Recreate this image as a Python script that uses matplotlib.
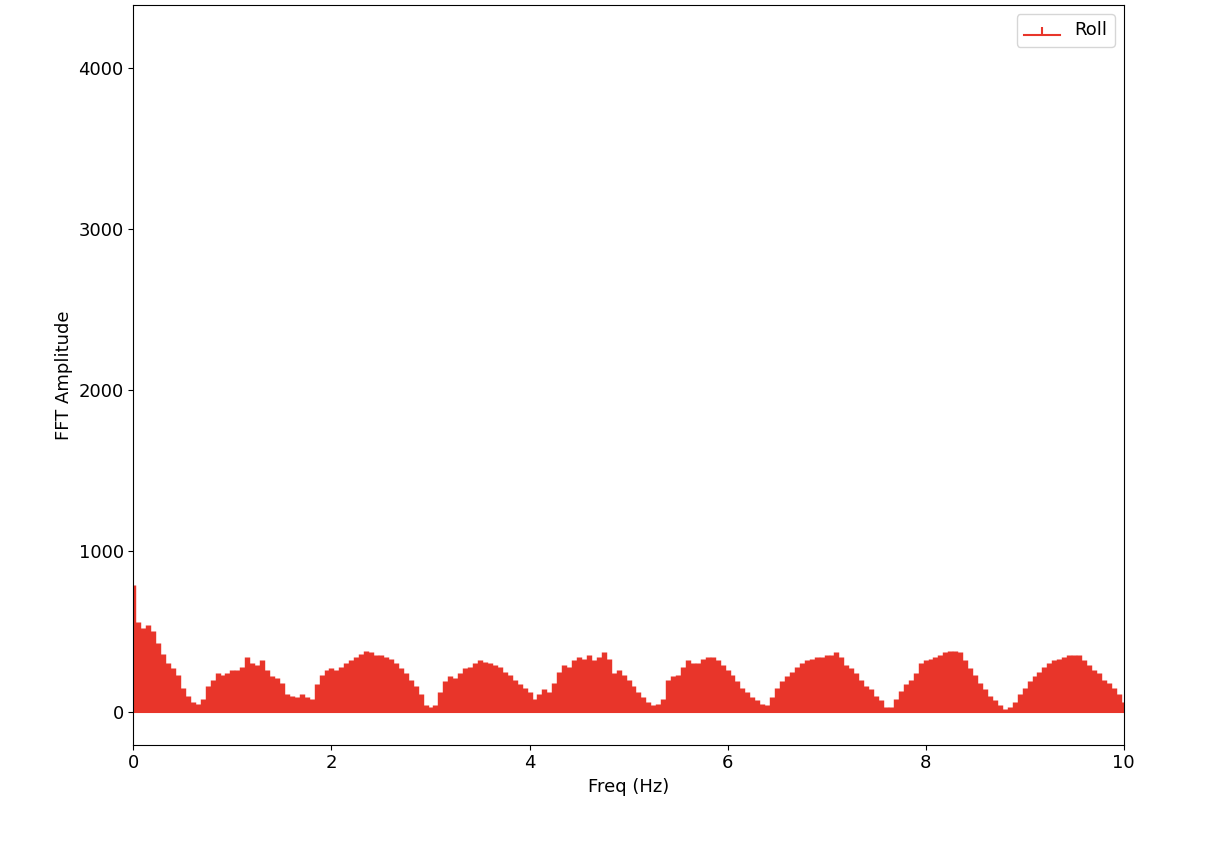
import matplotlib
matplotlib.use('Agg')
import matplotlib.pyplot as plt
import numpy as np

# FFT amplitude read every 0.05 Hz from 0 to 10 Hz
amplitude = [
    790, 560, 520, 540, 500, 430, 360, 300, 270, 230,   # 0.00-0.45
    150, 100, 60, 50, 80, 160, 200, 240, 230, 240,      # 0.50-0.95
    260, 260, 280, 340, 300, 290, 320, 260, 220, 210,   # 1.00-1.45
    180, 110, 100, 90, 110, 90, 80, 170, 230, 260,      # 1.50-1.95
    270, 260, 280, 300, 320, 340, 360, 380, 370, 350,   # 2.00-2.45
    350, 340, 330, 300, 270, 240, 200, 160, 110, 40,    # 2.50-2.95
    30, 40, 120, 190, 220, 210, 240, 270, 280, 300,     # 3.00-3.45
    320, 310, 300, 290, 280, 250, 230, 200, 170, 150,   # 3.50-3.95
    120, 80, 110, 140, 120, 180, 250, 290, 280, 320,    # 4.00-4.45
    340, 330, 350, 320, 340, 370, 330, 240, 260, 230,   # 4.50-4.95
    200, 160, 120, 90, 60, 40, 50, 80, 200, 220,        # 5.00-5.45
    230, 280, 320, 300, 300, 330, 340, 340, 320, 290,   # 5.50-5.95
    260, 230, 190, 150, 120, 90, 70, 50, 40, 90,        # 6.00-6.45
    150, 190, 220, 250, 280, 300, 320, 330, 340, 340,   # 6.50-6.95
    350, 350, 370, 340, 290, 270, 240, 200, 160, 140,   # 7.00-7.45
    100, 70, 30, 30, 80, 130, 170, 200, 240, 300,       # 7.50-7.95
    320, 330, 340, 350, 370, 380, 380, 370, 320, 270,   # 8.00-8.45
    230, 180, 140, 100, 70, 40, 20, 30, 60, 110,        # 8.50-8.95
    150, 190, 220, 250, 280, 300, 320, 330, 340, 350,   # 9.00-9.45
    350, 350, 320, 290, 260, 240, 200, 180, 150, 110,   # 9.50-9.95
    60,                                                 # 10.00
]
freq = np.linspace(0, 10, len(amplitude))

red = '#e8352a'

fig = plt.figure(figsize=(12.24, 8.58), dpi=100)
ax = fig.add_axes([0.109, 0.132, 0.809, 0.862])
markers, stems, base = ax.stem(freq, amplitude, linefmt='-', markerfmt=' ', basefmt='-', label='Roll')
plt.setp(stems, color=red, linewidth=3.9)
plt.setp(base, color=red, linewidth=1.5)

ax.set_xlim(0, 10)
ax.set_ylim(-205, 4390)
ax.set_yticks([0, 1000, 2000, 3000, 4000])
ax.tick_params(labelsize=13)
ax.set_xlabel('Freq (Hz)', fontsize=13)
ax.set_ylabel('FFT Amplitude', fontsize=13)
ax.legend(loc='upper right', fontsize=13)

plt.savefig('out.png', dpi=100)
